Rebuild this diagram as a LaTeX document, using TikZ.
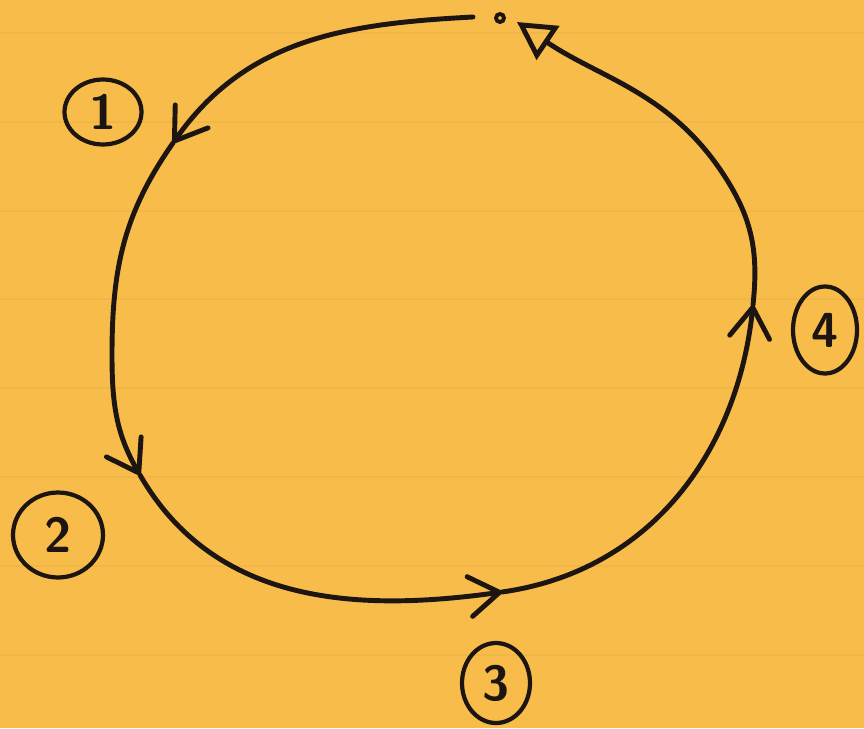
\documentclass[tikz,border=0pt]{standalone}
\usepackage{tikz}
\usetikzlibrary{shapes.geometric, arrows.meta}
\definecolor{paper}{HTML}{F8BC4A}
\definecolor{ruling}{HTML}{F1B648}
\definecolor{ink}{HTML}{1C1512}
\tikzstyle{stage}     = [ellipse, draw=ink, line width=2.4pt, inner sep=0pt,
                         text=ink, font=\sffamily\bfseries\fontsize{28}{28}\selectfont]
\tikzstyle{cycleline} = [draw=ink, line width=2.8pt, line cap=round]
\tikzstyle{chev}      = [cycleline, -{Straight Barb[length=0.6cm, width=0.8cm, round]}]

\begin{document}
\begin{tikzpicture}[x=0.02cm, y=0.02cm]
  \fill[paper] (0,0) rectangle (864,728);
  \useasboundingbox (0,0) rectangle (864,728);
  \foreach \yy in {33,122,211,299,388,477,566,655}
    \draw[ruling, line width=1pt] (0,728-\yy) -- (864,728-\yy);

  \coordinate (s)  at (473,711);
  \coordinate (p1) at (173,585);
  \coordinate (l)  at (112,373);
  \coordinate (p2) at (140,253);
  \coordinate (p3) at (502,136);
  \coordinate (p4) at (753,423);
  \coordinate (r)  at (727,548);
  \coordinate (e)  at (517,706);

  \draw[chev] (s)  to[out=183, in=55] (p1);
  \draw[chev] (p1) to[out=-125, in=90] (l) to[out=-90, in=120] (p2);
  \draw[chev] (p2) to[out=-60, in=188] (p3);
  \draw[chev] (p3) to[out=8, in=-96] (p4);
  \draw[cycleline, -{Triangle[open, length=0.75cm, width=0.8cm]}]
        (p4) to[out=84, in=-58] (r) to[out=122, in=-34] (e);
  \draw[ink, line width=2.2pt] (500,710) circle (4);

  \node[stage, minimum width=1.54cm, minimum height=1.3cm]  (n1) at (103,616) {1};
  \node[stage, minimum width=1.8cm,  minimum height=1.7cm]  (n2) at (58,193)  {2};
  \node[stage, minimum width=1.36cm, minimum height=1.6cm]  (n3) at (496,45)  {3};
  \node[stage, minimum width=1.28cm, minimum height=1.74cm] (n4) at (825,398) {4};
\end{tikzpicture}
\end{document}
